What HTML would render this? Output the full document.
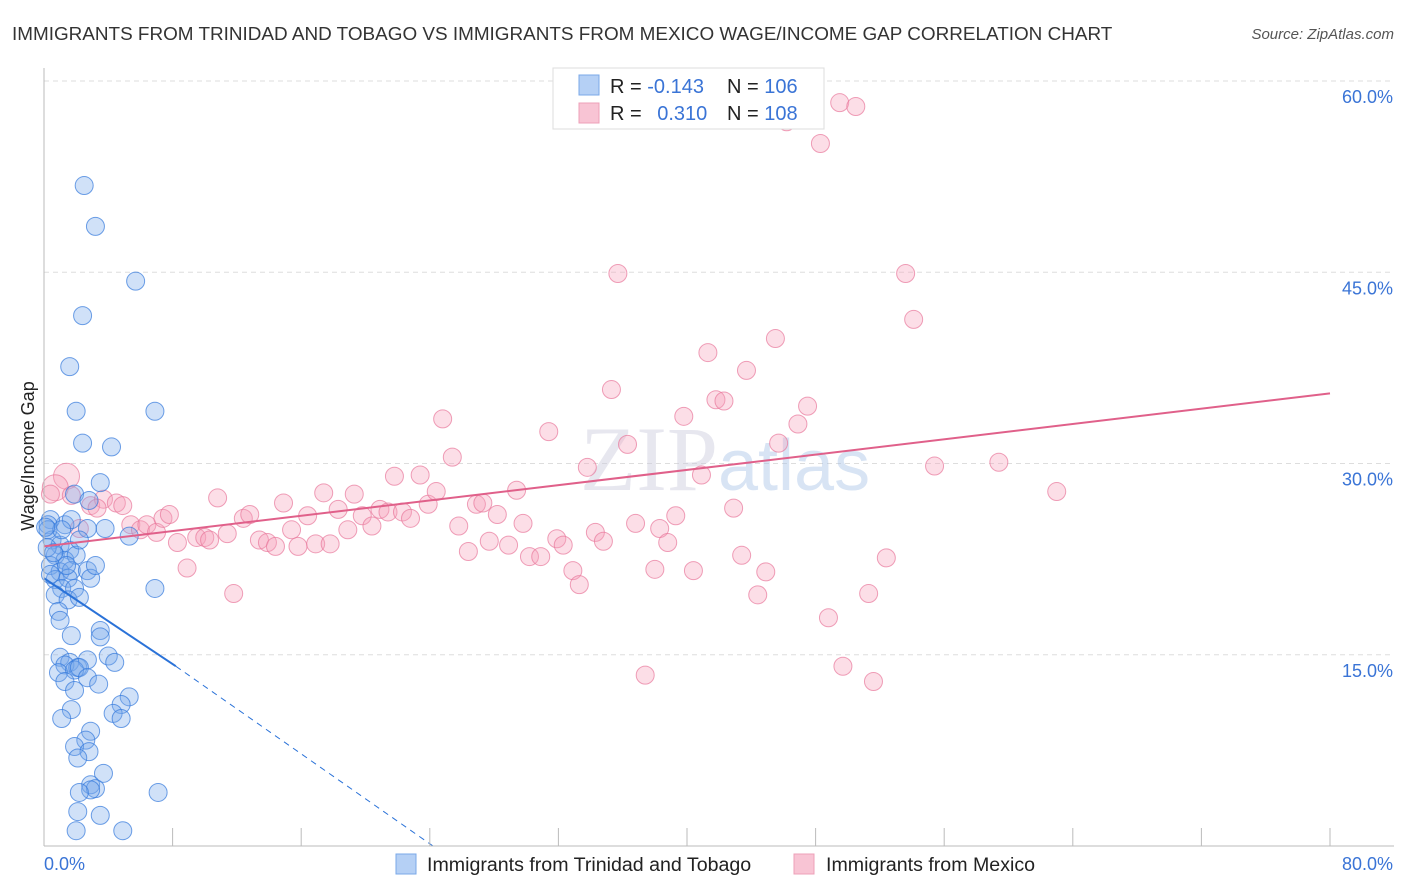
<!DOCTYPE html>
<html><head><meta charset="utf-8"><style>
body{margin:0;background:#fff;font-family:"Liberation Sans",sans-serif}
svg{display:block}
</style></head><body>
<svg width="1406" height="892">
<text x="12" y="40" font-size="18.9" fill="#333">IMMIGRANTS FROM TRINIDAD AND TOBAGO VS IMMIGRANTS FROM MEXICO WAGE/INCOME GAP CORRELATION CHART</text>
<text x="1394" y="39" font-size="15" fill="#555" font-style="italic" text-anchor="end">Source: ZipAtlas.com</text>
<g id="grid"></g>
<text x="718" y="490" font-size="92" fill="#ccd" opacity="0.45" font-family="Liberation Serif" text-anchor="end">ZIP</text>
<text x="718" y="490" font-size="72" fill="#aac4e8" opacity="0.45">atlas</text>
<g id="pts"></g>
<g id="trend"></g>
<g id="axes"></g>
<text transform="translate(34,456) rotate(-90)" font-size="18" fill="#222" text-anchor="middle">Wage/Income Gap</text>
<g>
<rect x="553" y="68" width="271" height="61" fill="#fff" stroke="#ddd"/>
<rect x="579" y="75" width="20" height="20" fill="#b5d0f5" stroke="#7aa8e8"/>
<rect x="579" y="103" width="20" height="20" fill="#f8c4d4" stroke="#eea0b8"/>
<text x="610" y="93" font-size="20" fill="#222">R = <tspan fill="#3a74d6">-0.143</tspan></text>
<text x="727" y="93" font-size="20" fill="#222">N = <tspan fill="#3a74d6">106</tspan></text>
<text x="610" y="120" font-size="20" fill="#222">R = <tspan fill="#3a74d6" dx="10">0.310</tspan></text>
<text x="727" y="120" font-size="20" fill="#222">N = <tspan fill="#3a74d6">108</tspan></text>
</g>
<g>
<rect x="396" y="854" width="20" height="20" fill="#b5d0f5" stroke="#7aa8e8"/>
<text x="427" y="871" font-size="19.6" fill="#222">Immigrants from Trinidad and Tobago</text>
<rect x="794" y="854" width="20" height="20" fill="#f8c4d4" stroke="#eea0b8"/>
<text x="826" y="871" font-size="19.6" fill="#222">Immigrants from Mexico</text>
</g>
</svg>
<script>
const blueX=[2.5,3.2,5.7,2.4,1.6,2.0,6.9,2.4,4.2,3.5,1.9,2.8,1.3,1.7,3.8,5.3,2.7,0.4,0.25,0.5,1.0,1.6,0.7,1.3,2.0,0.4,1.0,1.7,2.7,0.7,1.5,2.9,1.1,1.9,0.7,1.5,6.9,0.9,1.0,1.7,3.5,3.5,1.0,1.6,1.3,2.1,4.0,4.4,2.7,0.9,1.9,2.2,2.7,1.3,3.4,1.9,5.3,4.8,4.3,4.8,1.7,1.1,2.9,2.6,1.9,2.8,2.1,3.7,2.9,3.2,2.9,2.2,7.1,2.1,3.5,2.0,4.9,0.25,0.2,0.4,1.1,2.2,3.2,2.2,0.1,0.6,1.4];
const blueY=[51.8,48.6,44.3,41.6,37.6,34.1,34.1,31.6,31.3,28.5,27.6,27.1,25.2,25.6,24.9,24.3,24.9,25.6,25.2,24.0,23.6,23.2,22.8,22.4,22.8,22.0,21.5,21.6,21.6,20.9,21.0,21.0,20.2,20.2,19.7,19.3,20.2,18.4,17.7,16.5,16.9,16.4,14.8,14.4,14.2,14.0,14.9,14.4,14.6,13.6,13.8,14.0,13.2,12.9,12.7,12.2,11.7,11.1,10.4,10.0,10.7,10.0,9.0,8.3,7.8,7.4,6.9,5.7,4.8,4.5,4.4,4.2,4.2,2.7,2.4,1.2,1.2,24.8,23.4,21.3,24.8,24.0,22.0,19.5,25.0,23.0,22.0];
const pinkX=[1.4,0.7,0.4,1.7,2.9,3.7,4.5,4.9,5.4,6.0,6.4,7.0,7.4,7.8,8.3,8.9,9.5,10.0,10.3,10.8,11.8,11.4,12.4,12.8,13.4,13.9,14.4,14.9,15.4,15.8,16.4,16.9,17.4,17.8,18.3,18.9,19.3,19.8,20.4,20.9,21.4,21.8,22.3,22.8,23.4,23.9,24.4,24.8,25.4,25.8,26.4,26.9,27.3,27.7,28.2,28.9,29.4,29.8,30.2,30.9,31.4,31.9,32.3,32.9,33.3,33.8,34.3,34.8,35.3,35.7,36.3,36.8,37.4,38.0,38.3,38.8,39.3,39.8,40.4,40.9,41.3,41.8,42.3,42.9,43.4,43.7,44.4,44.9,45.5,45.7,46.2,46.9,47.5,48.3,48.8,49.5,49.7,50.5,51.3,51.6,52.4,53.6,54.1,55.4,59.4,63.0,3.3,2.2];
const pinkY=[29.0,28.1,27.6,27.5,26.7,27.2,26.9,26.7,25.2,24.8,25.2,24.6,25.7,26.0,23.8,21.8,24.2,24.2,24.0,27.3,19.8,24.5,25.7,26.0,24.0,23.8,23.5,26.9,24.8,23.5,25.9,23.7,27.7,23.7,26.4,24.8,27.6,25.9,25.1,26.4,26.2,29.0,26.2,25.7,29.1,26.8,27.8,33.5,30.5,25.1,23.1,26.8,26.9,23.9,26.0,23.6,27.9,25.3,22.7,22.7,32.5,24.1,23.6,21.6,20.5,29.7,24.6,23.9,35.8,44.9,31.5,25.3,13.4,21.7,24.9,23.8,25.9,33.7,21.6,29.1,38.7,35.0,34.9,26.5,22.8,37.3,19.7,21.5,39.8,31.6,56.8,33.1,34.5,55.1,17.9,58.3,14.1,58.0,19.8,12.9,22.6,44.9,41.3,29.8,30.1,27.8,26.5,24.9];
const pinkBig=[0,1];
const xTicks=[0,8,16,24,32,40,48,56,64,72,80];
const yTicks=[15,30,45,60];
const yTickLabels=["15.0%","30.0%","45.0%","60.0%"];
const blueTrend=[[0,21.0],[8.2,14.1],[24.2,0]];
const pinkTrend=[[0,23.5],[80,35.5]];
const NS="http://www.w3.org/2000/svg";
const sx=v=>44+v*16.075, sy=v=>846-v*12.75;
function mk(t,a,p){const e=document.createElementNS(NS,t);for(const k in a)e.setAttribute(k,a[k]);p.appendChild(e);return e;}
const gridG=document.getElementById('grid'),axesG=document.getElementById('axes'),ptsG=document.getElementById('pts'),trG=document.getElementById('trend');
yTicks.forEach((v,i)=>{
 const l=mk('line',{x1:44,x2:1394,y1:sy(v),y2:sy(v),stroke:'#ddd','stroke-dasharray':'5,4'},gridG);
 
 
 const t=mk('text',{x:1393,y:sy(v)+22,'font-size':18,fill:'#3a74d6','text-anchor':'end'},axesG);t.textContent=yTickLabels[i];
 
 
});
mk('line',{x1:44,x2:44,y1:68,y2:846,stroke:'#bbb'},axesG);
mk('line',{x1:44,x2:1394,y1:846,y2:846,stroke:'#bbb'},axesG);
xTicks.forEach(v=>{const l=mk('line',{x1:sx(v),x2:sx(v),y1:828,y2:846,stroke:'#bbb'},axesG);
 
 });
const t0=mk('text',{x:44,y:870,'font-size':18,fill:'#3a74d6'},axesG);t0.textContent='0.0%';


const t1=mk('text',{x:1393,y:870,'font-size':18,fill:'#3a74d6','text-anchor':'end'},axesG);t1.textContent='80.0%';


pinkX.forEach((x,i)=>{const c=mk('circle',{cx:sx(x),cy:sy(pinkY[i]),r:pinkBig.includes(i)?13:9,fill:'rgba(245,160,185,0.35)',stroke:'rgba(232,120,155,0.7)','stroke-width':1},ptsG);
 
 });
blueX.forEach((x,i)=>{const c=mk('circle',{cx:sx(x),cy:sy(blueY[i]),r:9,fill:'rgba(120,170,235,0.35)',stroke:'rgba(50,120,220,0.7)','stroke-width':1},ptsG);
 
 });
const b1=mk('line',{x1:sx(blueTrend[0][0]),y1:sy(blueTrend[0][1]),x2:sx(blueTrend[1][0]),y2:sy(blueTrend[1][1]),stroke:'#2a72d8','stroke-width':2},trG);


const b2=mk('line',{x1:sx(blueTrend[1][0]),y1:sy(blueTrend[1][1]),x2:sx(blueTrend[2][0]),y2:sy(blueTrend[2][1]),stroke:'#2a72d8','stroke-width':1,'stroke-dasharray':'6,5'},trG);


const p1=mk('line',{x1:sx(pinkTrend[0][0]),y1:sy(pinkTrend[0][1]),x2:sx(pinkTrend[1][0]),y2:sy(pinkTrend[1][1]),stroke:'#e0608a','stroke-width':2},trG);


</script>
</body></html>
